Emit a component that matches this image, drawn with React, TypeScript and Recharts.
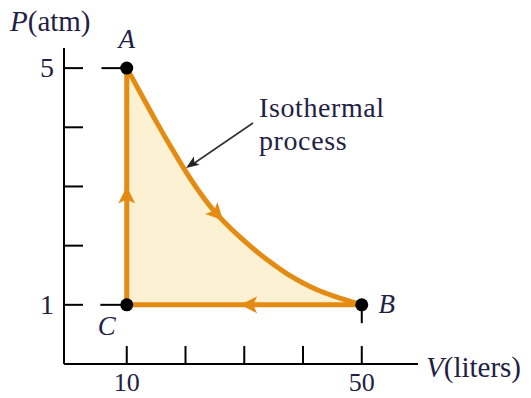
import React from 'react';
import {
  ComposedChart,
  Area,
  Line,
  Scatter,
  XAxis,
  YAxis,
  ReferenceLine,
  Customized,
} from 'recharts';

// isothermal curve A -> B
const curveV = [10, 12.5, 15, 17.5, 20, 22.5, 25, 27.5, 30, 32.5, 35, 37.5, 40, 42.5, 45, 47.5, 50];
const curveP = [5.0, 4.55, 4.1, 3.67, 3.26, 2.89, 2.57, 2.31, 2.08, 1.87, 1.68, 1.51, 1.37, 1.25, 1.155, 1.075, 1.0];

// states of the cycle
const stateNames = ['A', 'B', 'C'];
const stateV = [10, 50, 10];
const stateP = [5, 1, 1];

// straight legs B -> C -> A
const legV = [10, 10, 50];
const legP = [5, 1, 1];

// direction arrows on the path (tip position, heading in degrees)
const arrowV = [10, 29.3, 26.4];
const arrowP = [3.0, 1, 2.43];
const arrowHeading = [-90, 180, 46];

// axes
const xTicks = [10, 20, 30, 40, 50];
const xLabeled = [10, 50];
const yTicks = [1, 2, 3, 4, 5];
const yLabeled = [1, 5];

const ORANGE = '#E38B12';
const FILL = '#FDF1D3';
const INK = '#1f2144';
const FONT = '"Liberation Serif", "Times New Roman", serif';

const curveData = curveV.map((V, i) => ({ V, P: curveP[i] }));
const legData = legV.map((V, i) => ({ V, P: legP[i] }));
const stateData = stateNames.map((name, i) => ({ name, V: stateV[i], P: stateP[i] }));
const arrowData = arrowV.map((V, i) => ({ V, P: arrowP[i], heading: arrowHeading[i] }));

const labelOffset: Record<string, [number, number]> = {
  A: [0, -20],
  B: [25, 8],
  C: [-20, 30],
};

const XTick = (props: any) => {
  const { x, y, payload } = props;
  return (
    <g>
      <line x1={x} y1={y} x2={x} y2={y - 18} stroke="#000" strokeWidth={2} />
      {xLabeled.includes(payload.value) && (
        <text x={x} y={y + 27} textAnchor="middle" fontFamily={FONT} fontSize={26} fill={INK}>
          {payload.value}
        </text>
      )}
    </g>
  );
};

const YTick = (props: any) => {
  const { x, y, payload } = props;
  return (
    <g>
      <line x1={x} y1={y} x2={x + 19} y2={y} stroke="#000" strokeWidth={2} />
      {yLabeled.includes(payload.value) && (
        <text x={x - 17} y={y + 9} textAnchor="middle" fontFamily={FONT} fontSize={28} fill={INK}>
          {payload.value}
        </text>
      )}
    </g>
  );
};

const StateDot = (props: any) => {
  const { cx, cy, payload } = props;
  const [dx, dy] = labelOffset[payload.name] || [0, 0];
  return (
    <g>
      <circle cx={cx} cy={cy} r={6.5} fill="#000" />
      <text
        x={cx + dx}
        y={cy + dy}
        textAnchor="middle"
        fontFamily={FONT}
        fontStyle="italic"
        fontSize={27}
        fill={INK}
      >
        {payload.name}
      </text>
    </g>
  );
};

const ArrowHead = (props: any) => {
  const { cx, cy, payload } = props;
  return (
    <path
      d="M0,0 L-17,-8.5 L-13,0 L-17,8.5 Z"
      fill={ORANGE}
      transform={`translate(${cx},${cy}) rotate(${payload.heading})`}
    />
  );
};

const Annotations = () => (
  <g>
    <text x={10} y={31} fontSize={29} fontFamily={FONT} fill={INK}>
      <tspan fontStyle="italic">P</tspan>(atm)
    </text>
    <text x={426} y={377} fontSize={29} fontFamily={FONT} fill={INK}>
      <tspan fontStyle="italic">V</tspan>(liters)
    </text>
    <text x={259} y={117} fontSize={28} fontFamily={FONT} fill={INK} letterSpacing={0.6}>
      Isothermal
    </text>
    <text x={259} y={150} fontSize={28} fontFamily={FONT} fill={INK} letterSpacing={0.6}>
      process
    </text>
    <line x1={253} y1={123} x2={193} y2={164} stroke="#333" strokeWidth={1.6} />
    <path d="M0,0 L-13,-5 L-10,0 L-13,5 Z" fill="#222" transform="translate(186,168) rotate(145.6)" />
  </g>
);

export default function App() {
  return (
    <div style={{ position: 'absolute', left: 0, top: 0, background: '#fff' }}>
      <ComposedChart
        width={531}
        height={398}
        data={curveData}
        margin={{ top: 48, right: 113, bottom: 33, left: 63 }}
      >
        <XAxis
          dataKey="V"
          type="number"
          domain={[-0.68, 59.57]}
          ticks={xTicks}
          height={1}
          tickSize={0}
          tickMargin={0}
          tickLine={false}
          tick={<XTick />}
          axisLine={{ stroke: '#000', strokeWidth: 2 }}
        />
        <YAxis
          dataKey="P"
          type="number"
          domain={[0, 5.34]}
          ticks={yTicks}
          width={1}
          tickSize={0}
          tickMargin={0}
          tickLine={false}
          tick={<YTick />}
          axisLine={{ stroke: '#000', strokeWidth: 2 }}
        />
        <Area
          type="monotone"
          dataKey="P"
          baseValue={1}
          fill={FILL}
          fillOpacity={1}
          stroke={ORANGE}
          strokeWidth={5}
          dot={false}
          activeDot={false}
          isAnimationActive={false}
        />
        <Line
          data={legData}
          dataKey="P"
          type="linear"
          stroke={ORANGE}
          strokeWidth={5}
          strokeLinejoin="miter"
          dot={false}
          activeDot={false}
          isAnimationActive={false}
        />
        <ReferenceLine
          segment={[{ x: 5.7, y: 5 }, { x: 10, y: 5 }]}
          stroke="#000"
          strokeWidth={2}
          ifOverflow="visible"
        />
        <ReferenceLine
          segment={[{ x: 5.5, y: 1 }, { x: 10, y: 1 }]}
          stroke="#000"
          strokeWidth={2}
          ifOverflow="visible"
        />
        <ReferenceLine
          segment={[{ x: 50, y: 1 }, { x: 50, y: 0.69 }]}
          stroke="#000"
          strokeWidth={2}
          ifOverflow="visible"
        />
        <Scatter data={arrowData} dataKey="P" shape={<ArrowHead />} isAnimationActive={false} />
        <Scatter data={stateData} dataKey="P" shape={<StateDot />} isAnimationActive={false} />
        <Customized component={Annotations} />
      </ComposedChart>
    </div>
  );
}
